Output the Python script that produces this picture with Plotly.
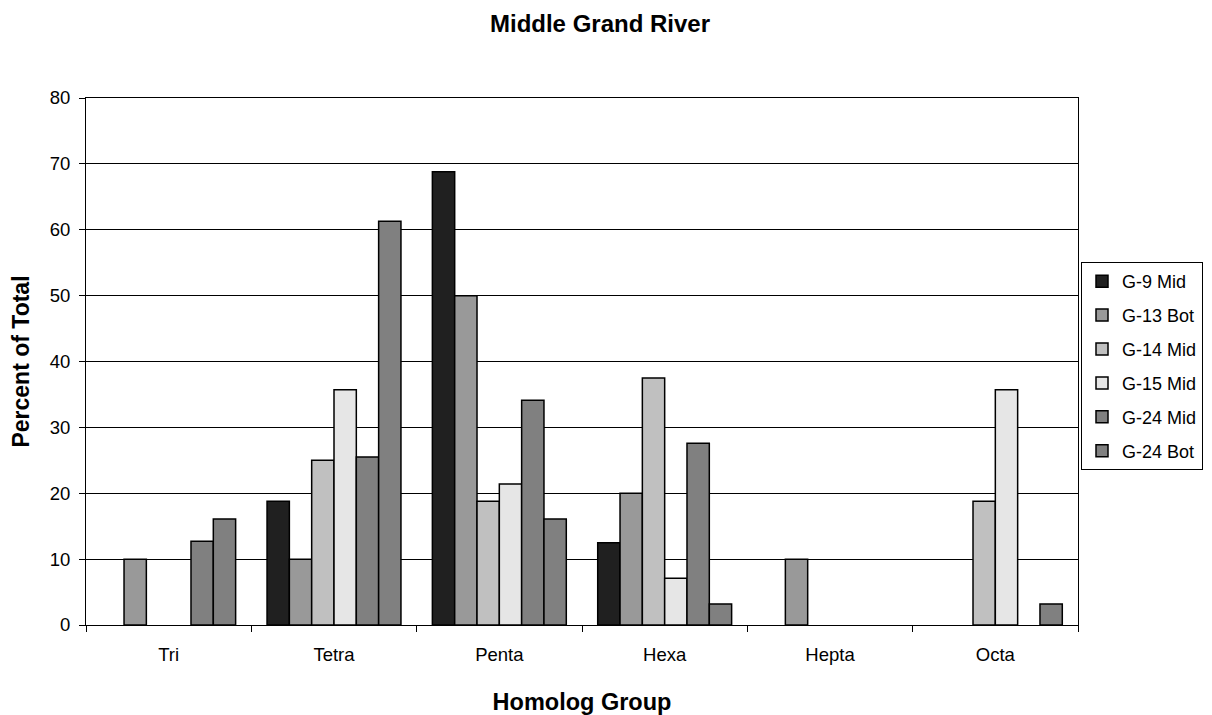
import plotly.graph_objects as go

categories = ["Tri", "Tetra", "Penta", "Hexa", "Hepta", "Octa"]
series_names = ["G-9 Mid", "G-13 Bot", "G-14 Mid", "G-15 Mid", "G-24 Mid", "G-24 Bot"]
g9_mid = [0, 18.8, 68.8, 12.5, 0, 0]
g13_bot = [10, 10, 50, 20, 10, 0]
g14_mid = [0, 25, 18.8, 37.5, 0, 18.8]
g15_mid = [0, 35.7, 21.4, 7.1, 0, 35.7]
g24_mid = [12.7, 25.5, 34.1, 27.6, 0, 0]
g24_bot = [16.1, 61.3, 16.1, 3.2, 0, 3.2]
y_ticks = [0, 10, 20, 30, 40, 50, 60, 70, 80]

series_values = [g9_mid, g13_bot, g14_mid, g15_mid, g24_mid, g24_bot]
colors = ["#202020", "#999999", "#c0c0c0", "#e6e6e6", "#808080", "#808080"]

FONT = "Liberation Sans, Arial, Helvetica, sans-serif"

W, H = 1204, 707  # page body adds ~8px margin
fig = go.Figure()
for name, vals, col in zip(series_names, series_values, colors):
    fig.add_trace(go.Bar(
        x=categories, y=[v if v else None for v in vals], name=name, legendgroup=name,
        marker=dict(color=col, line=dict(color="black", width=1.5)),
    ))

fig.update_layout(
    width=W, height=H,
    paper_bgcolor="white", plot_bgcolor="white",
    font=dict(family=FONT, size=18.5, color="black"),
    title=dict(text="<b>Middle Grand River</b>", x=(600 - 8) / W, xanchor="center",
               y=1 - 16 / H, yanchor="middle", font=dict(size=24)),
    margin=dict(l=78, r=134, t=90, b=90),
    barmode="group", bargap=0.19, bargroupgap=0,
    showlegend=True,
    legend=dict(xref="container", yref="container",
                x=(1081 - 8) / W, y=1 - (262 - 8) / H, xanchor="left", yanchor="top",
                bordercolor="black", borderwidth=1, bgcolor="white",
                font=dict(size=18), tracegroupgap=7.5, traceorder="grouped",
                itemwidth=30),
    xaxis=dict(
        title=dict(text="<b>Homolog Group</b>", font=dict(size=23.5), standoff=32),
        automargin=False,
        showline=True, linecolor="black", linewidth=1, mirror=True,
        ticks="outside", tickson="boundaries", ticklen=6, tickcolor="black",
        ticklabelstandoff=13,
        showgrid=False,
    ),
    yaxis=dict(
        title=dict(text="<b>Percent of Total</b>", font=dict(size=23), standoff=14),
        automargin=False,
        range=[0, 80], tickvals=y_ticks,
        showline=True, linecolor="black", linewidth=1, mirror=True,
        ticks="outside", ticklen=6, tickcolor="black", ticklabelstandoff=5,
        showgrid=True, gridcolor="black", gridwidth=1,
        zeroline=False,
    ),
)

fig.write_html("out.html")
